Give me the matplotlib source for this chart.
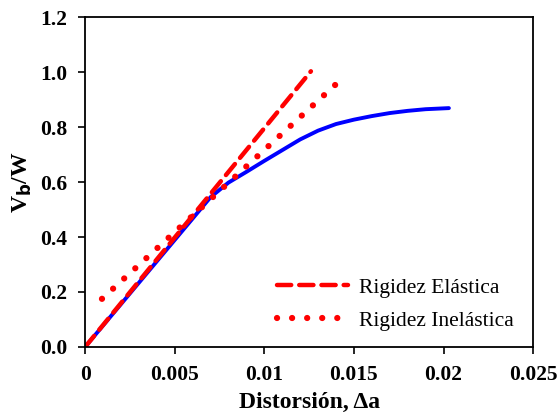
import matplotlib.pyplot as plt

plt.rcParams['font.family'] = ['Liberation Serif', 'DejaVu Serif']

# curva de capacidad
drift = [0.0, 0.007, 0.008, 0.009, 0.010, 0.011, 0.012, 0.013, 0.014,
         0.015, 0.016, 0.017, 0.018, 0.019, 0.0203]
vbw = [0.0, 0.545, 0.598, 0.637, 0.677, 0.716, 0.755, 0.787, 0.811,
       0.827, 0.840, 0.851, 0.859, 0.865, 0.869]

# rigidez elastica
el_x = [0.0, 0.0126]
el_y = [0.0, 1.003]

# rigidez inelastica
inel_x = [0.00094, 0.0140]
inel_y = [0.175, 0.956]

fig = plt.figure(figsize=(5.6, 4.18), dpi=100)
ax = fig.add_axes([0.152, 0.170, 0.800, 0.789])

ax.plot(drift, vbw, color='#0000ff', lw=2.8, solid_capstyle='round')
ax.plot(el_x, el_y, color='#ff0000', lw=3.2, dashes=(3.2, 1.8),
        dash_capstyle='round', label='Rigidez Elástica')
ax.plot(inel_x, inel_y, color='#ff0000', lw=4.5, dashes=(0.01, 2.4),
        dash_capstyle='round', label='Rigidez Inelástica')

ax.set_xlim(0, 0.025)
ax.set_ylim(0, 1.2)
ax.set_xticks([0, 0.005, 0.01, 0.015, 0.02, 0.025])
ax.set_xticklabels(['0', '0.005', '0.01', '0.015', '0.02', '0.025'])
ax.set_yticks([0, 0.2, 0.4, 0.6, 0.8, 1.0, 1.2])
ax.set_yticklabels(['0.0', '0.2', '0.4', '0.6', '0.8', '1.0', '1.2'])
ax.tick_params(direction='out', length=5, width=1.2, labelsize=15.5, pad=8)
for lab in ax.get_xticklabels() + ax.get_yticklabels():
    lab.set_fontweight('bold')
for s in ax.spines.values():
    s.set_linewidth(1.3)

ax.set_xlabel('Distorsión, Δa', fontsize=17, fontweight='bold', labelpad=5)
ax.set_ylabel('V$_\\mathbf{b}$/W', fontsize=17, fontweight='bold', labelpad=4)

ax.legend(loc='lower right', bbox_to_anchor=(1.0, -0.01), frameon=False,
          fontsize=15.5, handlelength=3.3, handletextpad=0.5, labelspacing=0.6)

fig.savefig('out.png', dpi=100)
